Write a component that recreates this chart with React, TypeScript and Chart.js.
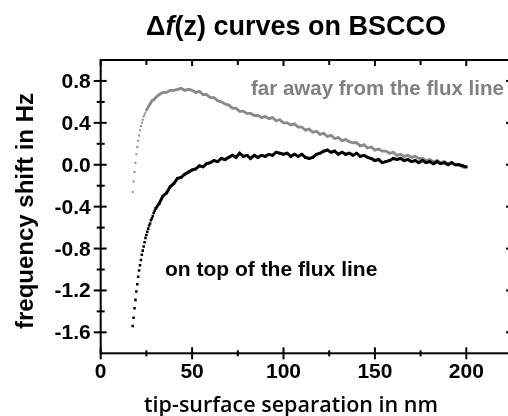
import React, { useEffect, useRef } from "react";
import { Chart, registerables } from "chart.js";
Chart.register(...registerables);

// ---- axis definitions ----
const X_MIN = 0;
const X_MAX = 225;
const Y_MIN = -1.8;
const Y_MAX = 1.0;
const X_TICKS = [0, 50, 100, 150, 200];
const X_TICK_LABELS = ["0", "50", "100", "150", "200"];
const X_MINOR = [25, 75, 125, 175];
const Y_TICKS = [-1.6, -1.2, -0.8, -0.4, 0.0, 0.4, 0.8];
const Y_TICK_LABELS = ["-1.6", "-1.2", "-0.8", "-0.4", "0.0", "0.4", "0.8"];
const Y_MINOR = [-1.4, -1.0, -0.6, -0.2, 0.2, 0.6];

const TITLE_PARTS = ["\u0394", "f", "(z) curves on BSCCO"];
const X_TITLE = "tip-surface separation in nm";
const Y_TITLE = "frequency shift in Hz";
const FAR_LABEL = "far away from the flux line";
const TOP_LABEL = "on top of the flux line";

// ---- series: far away from the flux line (grey) ----
const FAR_Z = [
  17.5, 18, 18.5, 19, 19.5, 20, 20.5, 21, 21.5, 22, 22.5, 23, 23.5, 24, 24.5, 25,
  26, 27, 28, 29, 30,
  32, 34, 36, 38, 40, 42, 44, 46, 48, 50, 52, 54, 56, 58, 60,
  62, 64, 66, 68, 70, 72, 74, 76, 78, 80, 82, 84, 86, 88, 90, 92, 94, 96, 98, 100,
  102, 104, 106, 108, 110, 112, 114, 116, 118, 120, 122, 124, 126, 128, 130, 132,
  134, 136, 138, 140, 142, 144, 146, 148, 150, 152, 154, 156, 158, 160, 162, 164,
  166, 168, 170, 172, 174, 176, 178, 180, 182, 184, 186, 188, 190, 192, 194, 196,
  198, 200,
];
const FAR_DF = [
  -0.26, -0.16, -0.07, 0.02, 0.1, 0.17, 0.23, 0.28, 0.33, 0.37, 0.4, 0.43, 0.46, 0.48, 0.5, 0.52,
  0.55, 0.58, 0.61, 0.62, 0.64,
  0.67, 0.69, 0.69, 0.71, 0.71,
  0.72, 0.73, 0.71, 0.72, 0.71,
  0.69, 0.7, 0.67, 0.67, 0.64,
  0.64, 0.61, 0.6, 0.58, 0.57,
  0.54, 0.54, 0.51, 0.51, 0.49,
  0.49, 0.47, 0.47, 0.45, 0.46,
  0.44, 0.45, 0.42, 0.43, 0.4,
  0.4, 0.38, 0.39, 0.36, 0.36,
  0.33, 0.34, 0.31, 0.32, 0.29,
  0.3, 0.27, 0.28, 0.25, 0.26,
  0.23, 0.24, 0.22, 0.21, 0.21,
  0.18, 0.19, 0.16, 0.17, 0.14,
  0.15, 0.13, 0.13, 0.11, 0.12,
  0.09, 0.1, 0.08, 0.09, 0.07,
  0.08, 0.06, 0.06, 0.04, 0.05,
  0.03, 0.04, 0.02, 0.03, 0.01,
  0.02, 0.0, 0.0, -0.02, -0.03,
];

// ---- series: on top of the flux line (black) ----
const TOP_Z = [
  17.5, 18, 18.5, 19, 19.5, 20, 20.5, 21, 21.5, 22, 22.5, 23, 23.5, 24, 24.5, 25,
  25.5, 26, 26.5, 27, 27.5, 28, 28.5, 29, 29.5, 30,
  32, 34, 36, 38, 40, 42, 44, 46, 48, 50, 52, 54, 56, 58, 60,
  62, 64, 66, 68, 70, 72, 74, 76, 78, 80, 82, 84, 86, 88, 90, 92, 94, 96, 98, 100,
  102, 104, 106, 108, 110, 112, 114, 116, 118, 120, 122, 124, 126, 128, 130, 132,
  134, 136, 138, 140, 142, 144, 146, 148, 150, 152, 154, 156, 158, 160, 162, 164,
  166, 168, 170, 172, 174, 176, 178, 180, 182, 184, 186, 188, 190, 192, 194, 196,
  198, 200,
];
const TOP_DF = [
  -1.54, -1.46, -1.37, -1.29, -1.21, -1.14, -1.07, -1.01, -0.96, -0.91, -0.86, -0.82, -0.78,
  -0.74, -0.7, -0.67, -0.64, -0.61, -0.58, -0.56, -0.53, -0.51, -0.49, -0.46, -0.44, -0.42,
  -0.37, -0.3, -0.27, -0.21, -0.18,
  -0.13, -0.12, -0.09, -0.07, -0.05,
  -0.04, -0.01, -0.02, 0.01, 0.02,
  0.04, 0.03, 0.06, 0.05, 0.07,
  0.09, 0.07, 0.11, 0.08, 0.09,
  0.06, 0.09, 0.07, 0.09, 0.08,
  0.1, 0.09, 0.12, 0.11, 0.1,
  0.11, 0.08, 0.1, 0.08, 0.1,
  0.07, 0.06, 0.07, 0.1, 0.11,
  0.13, 0.14, 0.12, 0.13, 0.1,
  0.12, 0.1, 0.11, 0.09, 0.11,
  0.08, 0.09, 0.07, 0.06, 0.04,
  0.05, 0.02, 0.03, 0.04, 0.06,
  0.05, 0.06, 0.04, 0.05, 0.03,
  0.04, 0.02, 0.04, 0.02, 0.03,
  0.01, 0.03, 0.01, 0.02, 0.0,
  0.02, 0.0, 0.0, -0.01, -0.02,
];

// where the sparse, dotted (steep) part of each curve ends
const FAR_DOTS_UNTIL = 25;
const TOP_DOTS_UNTIL = 30;

const FAR_COLOR = "#8a8a8a";
const TOP_COLOR = "#000000";
const SANS = '"Liberation Sans", Arial, sans-serif';

const framePlugin = {
  id: "framePlugin",
  afterDraw(chart: any) {
    const { ctx, chartArea: a } = chart;
    const xs = chart.scales.x;
    const ys = chart.scales.y;
    ctx.save();
    ctx.strokeStyle = "#000";
    ctx.lineWidth = 2;
    ctx.strokeRect(a.left, a.top, a.right - a.left, a.bottom - a.top);

    const line = (x1: number, y1: number, x2: number, y2: number) => {
      ctx.beginPath();
      ctx.moveTo(x1, y1);
      ctx.lineTo(x2, y2);
      ctx.stroke();
    };
    // y ticks
    Y_TICKS.forEach((v) => {
      const p = ys.getPixelForValue(v);
      line(a.left - 7, p, a.left + 6, p);
      line(a.right - 6, p, a.right, p);
    });
    Y_MINOR.forEach((v) => {
      const p = ys.getPixelForValue(v);
      line(a.left - 4, p, a.left + 4, p);
      line(a.right - 4, p, a.right, p);
    });
    // x ticks
    X_TICKS.forEach((v) => {
      const p = xs.getPixelForValue(v);
      line(p, a.bottom - 6, p, a.bottom + 6);
      line(p, a.top, p, a.top + 6);
    });
    X_MINOR.forEach((v) => {
      const p = xs.getPixelForValue(v);
      line(p, a.bottom - 3, p, a.bottom + 3);
      line(p, a.top, p, a.top + 5);
    });

    // tick labels
    ctx.fillStyle = "#000";
    ctx.font = `bold 21px ${SANS}`;
    ctx.textBaseline = "alphabetic";
    ctx.textAlign = "right";
    Y_TICKS.forEach((v, i) => {
      const p = ys.getPixelForValue(v);
      ctx.fillText(Y_TICK_LABELS[i], a.left - 10, p + 7);
    });
    ctx.textAlign = "center";
    X_TICKS.forEach((v, i) => {
      const p = xs.getPixelForValue(v);
      ctx.fillText(X_TICK_LABELS[i], p, a.bottom + 25);
    });

    // title with italic f
    const fonts = [`bold 27px ${SANS}`, `italic bold 27px ${SANS}`, `bold 27px ${SANS}`];
    const widths = TITLE_PARTS.map((t, i) => {
      ctx.font = fonts[i];
      return ctx.measureText(t).width;
    });
    const total = widths.reduce((s, w) => s + w, 0);
    let tx = 296 - total / 2;
    ctx.textAlign = "left";
    TITLE_PARTS.forEach((t, i) => {
      ctx.font = fonts[i];
      ctx.fillText(t, tx, 34.5);
      tx += widths[i];
    });

    // x title
    ctx.font = `600 20px "Open Sans", ${SANS}`;
    const w20 = ctx.measureText(X_TITLE).width;
    const size = (20 * 294) / w20;
    ctx.font = `600 ${size.toFixed(2)}px "Open Sans", ${SANS}`;
    ctx.textAlign = "center";
    ctx.fillText(X_TITLE, 291, 411.5);

    // y title
    ctx.save();
    ctx.translate(32.5, 211);
    ctx.rotate(-Math.PI / 2);
    ctx.font = `bold 24px ${SANS}`;
    ctx.textAlign = "center";
    ctx.fillText(Y_TITLE, 0, 0);
    ctx.restore();

    // annotations
    ctx.textAlign = "left";
    ctx.font = `bold 20.5px ${SANS}`;
    ctx.fillStyle = "#808080";
    ctx.fillText(FAR_LABEL, 251, 95);
    ctx.font = `bold 21px ${SANS}`;
    ctx.fillStyle = "#000";
    ctx.fillText(TOP_LABEL, 165, 276);
    ctx.restore();
  },
};

export default function App() {
  const ref = useRef<HTMLCanvasElement | null>(null);
  useEffect(() => {
    if (!ref.current) return;
    const chart = new Chart(ref.current, {
      type: "scatter",
      data: {
        datasets: [
          {
            label: TOP_LABEL,
            data: TOP_Z.map((z, i) => ({ x: z, y: TOP_DF[i] })),
            showLine: true,
            borderColor: TOP_COLOR,
            backgroundColor: TOP_COLOR,
            borderWidth: 3,
            pointRadius: 1.8,
            pointStyle: "rect",
            pointBorderWidth: 0,
            segment: {
              borderColor: (c: any) =>
                c.p0.parsed.x < TOP_DOTS_UNTIL ? "rgba(0,0,0,0)" : TOP_COLOR,
            },
          },
          {
            label: FAR_LABEL,
            data: FAR_Z.map((z, i) => ({ x: z, y: FAR_DF[i] })),
            showLine: true,
            borderColor: FAR_COLOR,
            backgroundColor: FAR_COLOR,
            borderWidth: 2.8,
            pointRadius: 1.4,
            pointStyle: "rect",
            pointBorderWidth: 0,
            segment: {
              borderColor: (c: any) =>
                c.p0.parsed.x < FAR_DOTS_UNTIL ? "rgba(0,0,0,0)" : FAR_COLOR,
            },
          },
        ],
      },
      options: {
        animation: false,
        responsive: true,
        maintainAspectRatio: false,
        events: [],
        layout: { padding: { top: 60, right: 2.5, left: 0, bottom: 0 } },
        plugins: { legend: { display: false }, tooltip: { enabled: false }, title: { display: false } },
        scales: {
          x: {
            type: "linear",
            min: X_MIN,
            max: X_MAX,
            grid: { display: false, drawTicks: false },
            border: { display: false },
            ticks: { display: false },
            afterFit: (s: any) => {
              s.height = 62.7;
            },
          },
          y: {
            type: "linear",
            min: Y_MIN,
            max: Y_MAX,
            grid: { display: false, drawTicks: false },
            border: { display: false },
            ticks: { display: false },
            afterFit: (s: any) => {
              s.width = 100.7;
            },
          },
        },
      },
      plugins: [framePlugin],
    });
    return () => chart.destroy();
  }, []);
  return (
    <div
      style={{
        position: "absolute",
        left: 0,
        top: 0,
        width: 508,
        height: 416,
        overflow: "hidden",
        background: "#fff",
      }}
    >
      <div style={{ position: "relative", width: 516, height: 416 }}>
        <canvas ref={ref} />
      </div>
    </div>
  );
}
